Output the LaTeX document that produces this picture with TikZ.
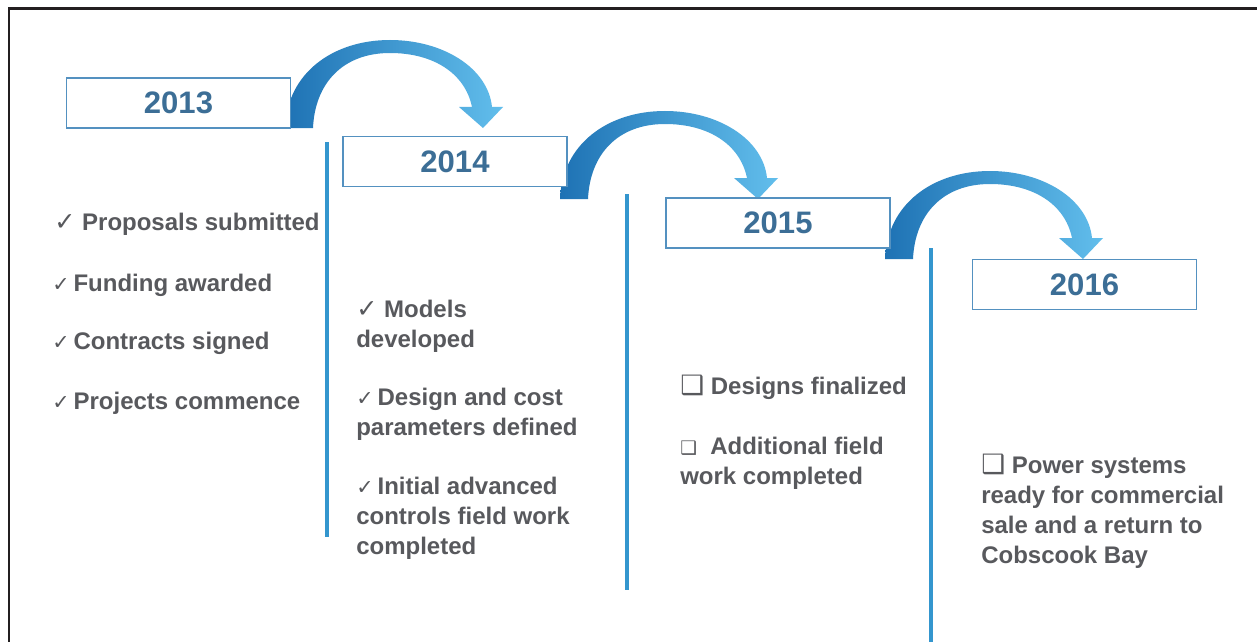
\documentclass[tikz,border=0pt]{standalone}
\usepackage{fontspec}
\setmainfont{Liberation Sans}
\newfontfamily\symfont{DejaVu Sans}

\definecolor{framegray}{RGB}{35,31,32}
\definecolor{boxblue}{RGB}{84,145,192}
\definecolor{yearblue}{RGB}{60,110,150}
\definecolor{lineblue}{RGB}{52,150,206}
\definecolor{itemgray}{RGB}{88,89,93}
\definecolor{arrowdark}{RGB}{30,114,180}
\definecolor{arrowlight}{RGB}{98,190,236}

% check marks and open boxes in front of the items
\newcommand\bigtick{{\symfont\fontsize{19}{19}\selectfont ✓}}
\newcommand\smalltick{{\symfont\fontsize{15.5}{15}\selectfont ✓}\hspace{3pt}}
\newcommand\bigbox{{\symfont\fontsize{20}{20}\selectfont ❑}}
\newcommand\smallbox{{\symfont\fontsize{14}{14}\selectfont ❑}}

\tikzset{
  yearbox/.style={draw=boxblue, line width=1.1pt, fill=white,
    minimum width={224*0.75pt}, minimum height={50*0.75pt}, inner sep=0pt,
    text=yearblue, font=\bfseries\fontsize{23.3}{28}\selectfont},
  % anchored at the baseline of the last line
  item/.style={anchor=base west, align=left, inner sep=0pt, text=itemgray,
    font=\bfseries\fontsize{18}{22.5}\selectfont},
  sepline/.style={draw=lineblue, line width=2.3pt},
  bendarrow/.pic={
    \shade[left color=arrowdark, right color=arrowlight]
      (-198,0) .. controls (-196,-55) and (-150,-88) .. (-93,-88)
      .. controls (-40,-88) and (5,-60) .. (9,-21)
      -- (20,-21) -- (0,0) -- (-24,-21) -- (-11,-21)
      .. controls (-18,-55) and (-50,-75) .. (-93,-75)
      .. controls (-140,-75) and (-168,-45) .. (-170,0) -- cycle;
  }
}

\begin{document}
\begin{tikzpicture}[x=0.75pt,y=-0.75pt]
\useasboundingbox (0,0) rectangle (1257,642);
\fill[white] (0,0) rectangle (1257,642);

% outer frame (top and left edges)
\draw[framegray, line width=1.9pt] (1262,8.5) -- (9,8.5) -- (9,648);

% separators between the years
\draw[sepline] (327,142) -- (327,537);
\draw[sepline] (627,194) -- (627,590);
\draw[sepline] (931,248) -- (931,648);

% curved arrows from one year to the next
\pic at (483,128) {bendarrow};
\pic at (758,199) {bendarrow};
\pic at (1083,259) {bendarrow};

% year boxes
\node[yearbox] (y2013) at (178.5,103) {2013};
\node[yearbox] (y2014) at (455,161.5) {2014};
\node[yearbox] (y2015) at (778,223) {2015};
\node[yearbox] (y2016) at (1084.5,284.5) {2016};

% 2013
\node[item] (a1) at (54,230) {\bigtick\ Proposals submitted};
\node[item] (a2) at (52,291) {\smalltick Funding awarded};
\node[item] (a3) at (52,349) {\smalltick Contracts signed};
\node[item] (a4) at (52,409) {\smalltick Projects commence};

% 2014
\node[item] (b1) at (356,347) {\bigtick\ Models\\developed};
\node[item] (b2) at (356,435) {\smalltick Design and cost\\parameters defined};
\node[item] (b3) at (356,554) {\smalltick Initial advanced\\controls field work\\completed};

% 2015
\node[item] (c1) at (680,394) {\bigbox\ Designs finalized};
\node[item] (c2) at (680,484) {\smallbox\ \ Additional field\\work completed};

% 2016
\node[item] (d1) at (981,563) {\bigbox\ Power systems\\ready for commercial\\sale and a return to\\Cobscook Bay};
\end{tikzpicture}
\end{document}
